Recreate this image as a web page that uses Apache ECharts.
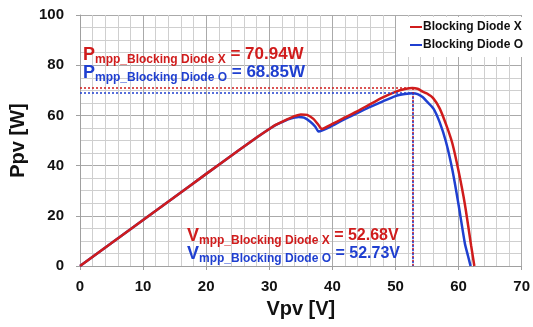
<!DOCTYPE html>
<html>
<head>
<meta charset="utf-8">
<script src="https://cdn.jsdelivr.net/npm/echarts@6/dist/echarts.min.js"></script>
<style>
  html, body { margin: 0; padding: 0; background: #fff; }
  #chart { width: 533px; height: 327px; }
</style>
</head>
<body>
<div id="chart"></div>
<script>
  // Blocking Diode X (red)
  var vX = [0, 5, 10, 15, 20, 25, 28, 30, 31, 32, 33, 34, 35, 36, 37, 37.8, 38.3, 40, 42, 44, 46, 48, 50, 51.5, 52.68, 53.5, 54.3, 55, 56, 57, 58, 59, 60, 61, 62, 62.5];
  var pX = [0, 9.2, 18.3, 27.5, 36.7, 45.8, 51.2, 54.6, 56.2, 57.4, 58.6, 59.7, 60.4, 60.2, 58.6, 56.2, 54.6, 56.6, 59.2, 61.7, 64.5, 67.2, 69.4, 70.5, 70.94, 70.6, 69.5, 68.7, 66.8, 62.8, 56.5, 49, 37.8, 24.6, 8, 0];
  // Blocking Diode O (blue)
  var vO = [0, 5, 10, 15, 20, 25, 28, 30, 31, 32, 33, 34, 34.6, 35.5, 36.5, 37.3, 37.8, 40, 42, 44, 46, 48, 50, 51.5, 52.73, 53.5, 54.3, 55, 56, 57, 58, 59, 60, 61, 61.5, 61.9];
  var pO = [0, 9.2, 18.3, 27.5, 36.7, 45.8, 51.2, 54.6, 56.1, 57.3, 58.4, 59.1, 59.4, 59.1, 57.5, 55.5, 53.6, 55.9, 58.6, 61.0, 63.4, 65.6, 67.7, 68.5, 68.85, 68.5, 67.3, 65.5, 62.8, 57.3, 49.5, 38.5, 24.4, 9, 4, 0];

  var mppX = [52.68, 70.94];
  var mppO = [52.73, 68.85];

  var xTicks = [0, 70, 10];
  var yTicks = [0, 100, 20];

  var RED = '#d01c1c';
  var BLUE = '#1f3fd0';
  var FONT = '"Liberation Sans", Arial, sans-serif';

  function pairs(xs, ys) {
    var out = [];
    for (var i = 0; i < xs.length; i++) out.push([xs[i], ys[i]]);
    return out;
  }

  function mppLines(pt, color) {
    return {
      silent: true,
      symbol: 'none',
      label: { show: false },
      lineStyle: { color: color, type: [2, 2], width: 1.6 },
      data: [
        [{ coord: [0, pt[1]] }, { coord: [pt[0], pt[1]] }],
        [{ coord: [pt[0], pt[1]] }, { coord: [pt[0], 0] }]
      ]
    };
  }

  function richLabel(sym, color, tag, value, valueSize) {
    return {
      text: '{a|' + sym + '}{b|mpp_Blocking Diode ' + tag + '}{c| = ' + value + '}',
      fill: color,
      rich: {
        a: { fontSize: 18, fontWeight: 'bold', fontFamily: FONT, fill: color, verticalAlign: 'bottom' },
        b: { fontSize: 12, fontWeight: 'bold', fontFamily: FONT, fill: color, verticalAlign: 'bottom', padding: [0, 0, -2, 0] },
        c: { fontSize: valueSize, fontWeight: 'bold', fontFamily: FONT, fill: color, verticalAlign: 'bottom', padding: [0, 0, 1, 0] }
      }
    };
  }

  var chart = echarts.init(document.getElementById('chart'));
  chart.setOption({
    animation: false,
    backgroundColor: '#fff',
    grid: { left: 80, right: 8, top: 15, bottom: 61 },
    legend: {
      orient: 'vertical',
      right: 6,
      top: 17,
      itemGap: 6,
      itemWidth: 12,
      itemHeight: 2,
      padding: [4, 4, 6, 14],
      backgroundColor: '#fff',
      textStyle: { fontFamily: FONT, fontWeight: 'bold', fontSize: 12, color: '#111', padding: [0, 0, 0, -4] },
      data: [
        { name: 'Blocking Diode X', icon: 'rect' },
        { name: 'Blocking Diode O', icon: 'rect' }
      ]
    },
    xAxis: {
      type: 'value',
      min: xTicks[0], max: xTicks[1], interval: xTicks[2],
      name: 'Vpv [V]',
      nameLocation: 'middle',
      nameGap: 33,
      nameTextStyle: { fontFamily: FONT, fontWeight: 'bold', fontSize: 20, color: '#111' },
      axisLine: { show: true, lineStyle: { color: '#a0a0a0', width: 1 } },
      axisTick: { show: true, length: 4, lineStyle: { color: '#a0a0a0' } },
      axisLabel: { fontFamily: FONT, fontWeight: 'bold', fontSize: 15, color: '#111', margin: 13 },
      splitLine: { show: true, lineStyle: { color: '#aaaaaa', width: 1 } },
      minorTick: { show: false, splitNumber: 5 },
      minorSplitLine: { show: true, lineStyle: { color: '#cfcfcf', width: 1 } }
    },
    yAxis: {
      type: 'value',
      min: yTicks[0], max: yTicks[1], interval: yTicks[2],
      name: 'Ppv [W]',
      nameLocation: 'middle',
      nameGap: 45,
      nameTextStyle: { fontFamily: FONT, fontWeight: 'bold', fontSize: 20, color: '#111' },
      axisLine: { show: true, lineStyle: { color: '#a0a0a0', width: 1 } },
      axisTick: { show: true, length: 4, lineStyle: { color: '#a0a0a0' } },
      axisLabel: { fontFamily: FONT, fontWeight: 'bold', fontSize: 15, color: '#111', margin: 16 },
      splitLine: { show: true, lineStyle: { color: '#aaaaaa', width: 1 } },
      minorTick: { show: false, splitNumber: 4 },
      minorSplitLine: { show: true, lineStyle: { color: '#cfcfcf', width: 1 } }
    },
    series: [
      {
        name: 'Blocking Diode X',
        type: 'line',
        data: pairs(vX, pX),
        showSymbol: false,
        smooth: 0.2,
        color: RED,
        lineStyle: { color: RED, width: 2.5 },
        z: 3,
        markLine: mppLines(mppX, RED)
      },
      {
        name: 'Blocking Diode O',
        type: 'line',
        data: pairs(vO, pO),
        showSymbol: false,
        smooth: 0.2,
        color: BLUE,
        lineStyle: { color: BLUE, width: 2.5 },
        z: 2,
        markLine: mppLines(mppO, BLUE)
      }
    ],
    graphic: [
      { type: 'text', left: 83, top: 46, z: 10, style: richLabel('P', RED, 'X', mppX[1].toFixed(2) + 'W', 17) },
      { type: 'text', left: 83, top: 64, z: 10, style: richLabel('P', BLUE, 'O', mppO[1].toFixed(2) + 'W', 17) },
      { type: 'text', left: 187, top: 227, z: 10, style: richLabel('V', RED, 'X', mppX[0].toFixed(2) + 'V', 16) },
      { type: 'text', left: 187, top: 245, z: 10, style: richLabel('V', BLUE, 'O', mppO[0].toFixed(2) + 'V', 16) }
    ]
  });
</script>
</body>
</html>
